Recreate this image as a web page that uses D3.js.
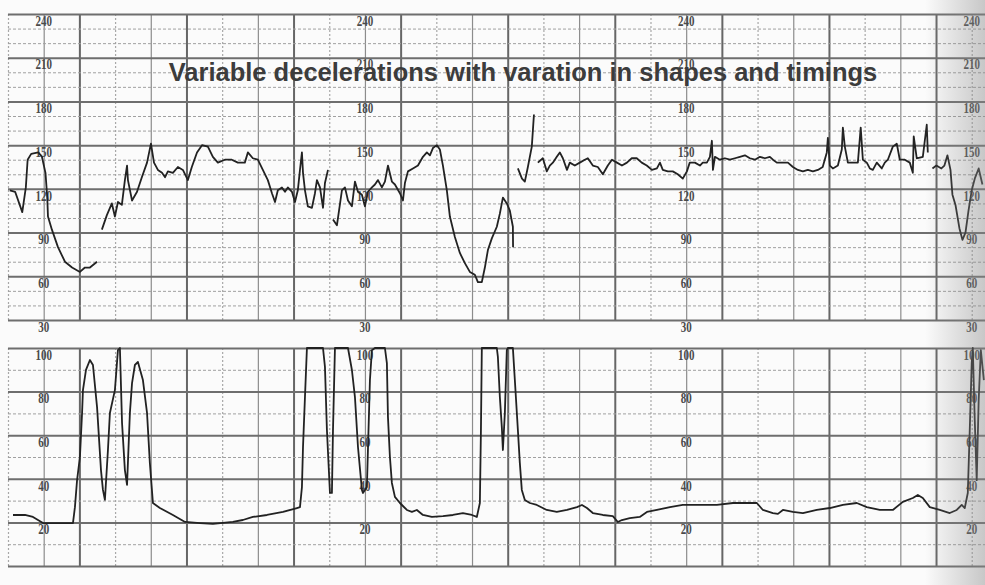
<!DOCTYPE html>
<html>
<head>
<meta charset="utf-8">
<script src="https://cdn.jsdelivr.net/npm/d3@7"></script>
<style>
  html, body { margin: 0; padding: 0; background: #fff; }
  svg { display: block; }
</style>
</head>
<body>
<div id="chart"></div>
<script>
const width = 985;
const height = 585;

const title = 'Variable decelerations with varation in shapes and timings';

// tick labels of both panels
const fhrTicks = [240, 210, 180, 150, 120, 90, 60, 30];
const ucTicks = [100, 80, 60, 40, 20];
// seconds where the printed scales repeat
const labelColumns = [20, 200, 380, 540];

// fetal heart rate, [seconds, bpm], null = signal loss
const fhrPoints = [
  [1, 119], [4, 118], [8, 104], [10, 121], [11, 140], [13, 144], [17, 145], [19, 142], [21, 131],
  [22, 114], [22.4, 101], [24.6, 92], [28, 80], [31.9, 70], [35.9, 66], [40.3, 63], [43.1, 66],
  [45.9, 66], [49.9, 70],
  null,
  [52.6, 92], [55.4, 102], [58.2, 110], [59.9, 101], [61.6, 111], [63.8, 109], [65.5, 126], [66.7, 136],
  [67.2, 126], [69.5, 112], [72.3, 118], [75, 128], [77.9, 138], [80.1, 151], [81.8, 138], [84, 133],
  [86.3, 131], [88, 128], [89.6, 132], [92.4, 131], [95.2, 135], [98, 133], [100.8, 126], [103, 135],
  [105.9, 145], [108.7, 150], [112, 149], [114.8, 142], [117.6, 138], [121.5, 140], [125.4, 140],
  [128.8, 138], [131, 138], [132.7, 138], [134.4, 145], [137.2, 141], [140, 140], [142.8, 133],
  [145.6, 126], [147.9, 117], [149.6, 111], [151.2, 119], [153.5, 121], [155.2, 118], [156.8, 121],
  [159.1, 118], [160.8, 111], [162.4, 119], [163.6, 133], [164.7, 145], [165.3, 131], [166.4, 119],
  [168, 108], [170.3, 107], [172, 117], [173.1, 126], [174.8, 121], [176.5, 107], [177.6, 124], [179.3, 133],
  null,
  [182.1, 99], [184.3, 95], [187.1, 119], [188.8, 121], [190.5, 112], [192.7, 108], [194.4, 125],
  [196.1, 118], [198.3, 116], [200, 108], [201.7, 118], [203.9, 121], [205.6, 123], [207.3, 126],
  [209.5, 121], [211.2, 125], [212.9, 136], [215.1, 125], [216.8, 123], [219.6, 117], [221.3, 112],
  [222.4, 124], [224.1, 132], [226.9, 134], [229.7, 136], [232.5, 142], [234.7, 145], [236.4, 143],
  [238.1, 148], [240.3, 150], [242, 147], [243.7, 136], [245.9, 119], [247.6, 101], [250.4, 87],
  [253.2, 76], [256, 69], [258.8, 63], [261.6, 61], [263.3, 56], [265.5, 56], [267.2, 66], [268.9, 78],
  [271.1, 86], [273.9, 94], [275.6, 103], [277.3, 114], [279.5, 110], [281.2, 105], [282.9, 94], [283, 80],
  null,
  [285.7, 134], [288, 127], [289.6, 125], [291.3, 135], [293.5, 149], [294.1, 160], [294.7, 171],
  null,
  [296.9, 138], [299.7, 141], [301.9, 132], [303.6, 136], [305.3, 138], [307.5, 142], [309.2, 145],
  [310.9, 141], [313.2, 133], [314.8, 138], [317.6, 136], [320.4, 138], [323.2, 140], [324.9, 141],
  [327.7, 136], [330.5, 135], [333.3, 130], [336.1, 136], [338.4, 140], [341.2, 138], [344, 136],
  [346.8, 138], [349.5, 141], [352.3, 141], [355.1, 138], [357.9, 136], [360.8, 133], [363.6, 134],
  [365.3, 138], [366.9, 133], [369.7, 132], [372.5, 132], [375.3, 130], [378.1, 127], [380.4, 132],
  [382, 138], [384.9, 138], [387.7, 136], [389.3, 138], [391.6, 138], [393.3, 142], [394.4, 153],
  [395, 133], [396.1, 142], [398.9, 140], [401.7, 141], [404.5, 140], [407.3, 141], [410.1, 142],
  [412.9, 143], [415.7, 141], [418.5, 140], [421.3, 142], [424.1, 141], [426.9, 142], [428.6, 140],
  [430.8, 138], [434.2, 138], [437, 138], [439.8, 135], [442.6, 133], [445.4, 132], [448.2, 133],
  [451, 132], [453.8, 133], [456.5, 135], [458.8, 145], [459.4, 155], [460.5, 136], [462.2, 134],
  [465, 136], [467.2, 147], [467.8, 162], [468.9, 149], [470.6, 138], [473.4, 138], [476.2, 138],
  [477.8, 162], [479, 140], [481.2, 138], [482.9, 134], [484.6, 133], [486.8, 138], [489.6, 134],
  [491.3, 138], [493, 140], [495.8, 149], [498, 151], [499.7, 140], [502.5, 140], [505.3, 138],
  [507, 131], [507.5, 156], [509.2, 141], [512.6, 142], [514.8, 164], [515.4, 145],
  null,
  [518, 134], [520.2, 136], [523, 134], [524.7, 136], [526.4, 143], [528.1, 133], [529.2, 116],
  [530.9, 109], [533.1, 93], [534.8, 85], [536.5, 90], [538.2, 105], [540, 119], [541.7, 127],
  [543.9, 134], [546, 123]
];

// uterine activity, [seconds, units]
const ucPoints = [
  [2.8, 23.4], [9.5, 23.4], [14, 22.5], [19.6, 19.7], [25.2, 19.7], [33.1, 19.7], [36.4, 19.7],
  [37.5, 27], [38.7, 39.4], [40.3, 50], [41.5, 70.2], [42, 80.7], [43.7, 90], [45.9, 94.5],
  [47.6, 92.2], [49.9, 72.9], [52.1, 44], [53.2, 34.9], [54.3, 30.3], [56, 53.2], [57.1, 70.2],
  [59.9, 80.7], [61.6, 99], [62.7, 100], [63.9, 65.6], [65.5, 44], [66.7, 37.2], [68.3, 70.2],
  [69.5, 83.9], [71.1, 92.2], [72.8, 93.6], [75.6, 85.3], [77.9, 70.2], [79.5, 47.2], [81.2, 28.9],
  [85.1, 26.6], [92.4, 23.4], [99.2, 20.2], [107.6, 19.7], [114.8, 19.3], [126, 20.2], [131.6, 21.1],
  [137.2, 22.5], [145.1, 23.4], [154.1, 24.8], [161.9, 26.6], [163.6, 27], [164.7, 36.2],
  [165.3, 54.6], [166.4, 77.5], [167.5, 100], [176.5, 100], [177.6, 91.3], [178.7, 62.4],
  [180.4, 33.5], [181.5, 33.5], [182.1, 62.4], [183.2, 100], [190.5, 100], [192.7, 89.9],
  [194.4, 77.5], [196.1, 54.6], [198.3, 34.9], [198.9, 33.5], [201.1, 36.2], [202.8, 85.3],
  [203.9, 99], [205.6, 100], [211.2, 100], [212.3, 93.1], [212.9, 68.3], [214, 50], [215.1, 38.1],
  [216.8, 31.7], [219.6, 28.9], [223.5, 25.7], [226.3, 24.8], [229.1, 25.7], [232.5, 23.4],
  [237.5, 22.5], [243.7, 22.9], [249.3, 23.4], [254.9, 24.3], [259.9, 23.4], [262.7, 22.5],
  [264.4, 28.9], [265, 62.4], [265.5, 100], [273.9, 100], [274.5, 95.9], [275.6, 77.5],
  [276.7, 63.8], [277.3, 53.2], [278.4, 70.2], [279.5, 99], [280.1, 100], [282.9, 100], [284, 85.3],
  [285.7, 62.4], [286.8, 47.2], [287.9, 34.9], [289.6, 30.3], [292.4, 28.9], [296.3, 28],
  [301.9, 25.7], [307.5, 24.8], [313.2, 25.7], [318.8, 27], [321.6, 28], [324.4, 26.6], [327.7, 24.3],
  [333.3, 23.4], [338.9, 22.9], [341.7, 20.2], [344, 21.1], [348.4, 22], [354, 22.5], [358, 24.8],
  [363.6, 25.7], [370.9, 27], [378.1, 28], [387.7, 28], [397.2, 28], [406.2, 28.9], [419.6, 28.9],
  [423, 25.7], [428.6, 24.3], [431.4, 23.9], [434.2, 25.7], [439.8, 24.8], [445.4, 24.3],
  [453.2, 25.7], [460.5, 26.6], [467.8, 28], [475.6, 28.9], [481.2, 27], [488.5, 25.7], [495.8, 25.7],
  [501.4, 29.4], [507, 31.2], [509.8, 32.6], [512.6, 31.2], [516.5, 27], [522.1, 25.7], [527.7, 24.3],
  [531.6, 25.7], [534.4, 28], [536.1, 26.6], [537.8, 33.5], [538.9, 62.4], [540, 93.1], [540.6, 100],
  [541.7, 67], [542.8, 39.4], [543.9, 76.1], [545.1, 99], [546.8, 85.3]
];

const svg = d3.select('#chart')
  .append('svg')
  .attr('width', width)
  .attr('height', height);

svg.append('rect')
  .attr('width', width)
  .attr('height', height)
  .attr('fill', '#fbfbfb');

// 1 second = 1.785 px (3 cm/min paper)
const x = d3.scaleLinear().domain([0, 548]).range([8, 986]);
const yFhr = d3.scaleLinear().domain([30, 240]).range([320, 14]);
const yUc = d3.scaleLinear().domain([0, 100]).range([566, 348]);

const gridTimes = d3.range(0, 548, 20);

function drawGrid(yScale, majorTicks, minorTicks) {
  const [y0, y1] = yScale.range();
  const g = svg.append('g');

  // vertical lines, heavy one every minute
  g.append('g')
    .attr('transform', `translate(0,${y0})`)
    .call(d3.axisBottom(x).tickValues(gridTimes).tickSize(-(y0 - y1)).tickFormat(''))
    .call(a => a.select('.domain').remove())
    .selectAll('line')
    .attr('stroke', d => (d / 20) % 3 === 2 ? '#666' : (d / 20) % 3 === 1 ? '#8c8c8c' : '#a8a8a8')
    .attr('stroke-width', d => (d / 20) % 3 === 2 ? 2 : 1.2)
    .attr('stroke-dasharray', d => (d / 20) % 3 === 0 ? '2,2' : null);

  // minor horizontals
  g.append('g')
    .attr('transform', `translate(${x(0)},0)`)
    .call(d3.axisLeft(yScale).tickValues(minorTicks).tickSize(-(width - x(0))).tickFormat(''))
    .call(a => a.select('.domain').remove())
    .selectAll('line')
    .attr('stroke', '#a0a0a0')
    .attr('stroke-width', 1)
    .attr('stroke-dasharray', '3,2');

  // major horizontals
  g.append('g')
    .attr('transform', `translate(${x(0)},0)`)
    .call(d3.axisLeft(yScale).tickValues(majorTicks).tickSize(-(width - x(0))).tickFormat(''))
    .call(a => a.select('.domain').remove())
    .selectAll('line')
    .attr('stroke', '#6e6e6e')
    .attr('stroke-width', 2);
}

drawGrid(yFhr, d3.range(30, 241, 30), d3.range(40, 240, 10).filter(v => v % 30 !== 0));
drawGrid(yUc, d3.range(0, 101, 20), d3.range(10, 100, 20));

// printed scale numbers, tall and narrow like the recorder font
function drawLabels(yScale, ticks) {
  labelColumns.forEach(t => {
    svg.append('g')
      .attr('transform', `translate(${x(t)},0)`)
      .call(d3.axisRight(yScale).tickValues(ticks).tickSize(0).tickPadding(0))
      .call(a => a.select('.domain').remove())
      .selectAll('text')
      .attr('text-anchor', 'middle')
      .attr('dy', '0.75em')
      .attr('textLength', d => String(d).length * 5.5)
      .attr('lengthAdjust', 'spacingAndGlyphs')
      .style('font-family', '"Liberation Serif", "DejaVu Serif", serif')
      .style('font-weight', 'bold')
      .style('font-size', '15px')
      .attr('fill', '#4a4a4a');
  });
}

drawLabels(yFhr, fhrTicks);
drawLabels(yUc, ucTicks);

// traces
const fhrLine = d3.line()
  .defined(d => d !== null)
  .x(d => x(d[0]))
  .y(d => yFhr(d[1]));

const ucLine = d3.line()
  .x(d => x(d[0]))
  .y(d => yUc(d[1]));

svg.append('path')
  .datum(fhrPoints)
  .attr('d', fhrLine)
  .attr('fill', 'none')
  .attr('stroke', '#222')
  .attr('stroke-width', 1.8)
  .attr('stroke-linejoin', 'round');

svg.append('path')
  .datum(ucPoints)
  .attr('d', ucLine)
  .attr('fill', 'none')
  .attr('stroke', '#222')
  .attr('stroke-width', 1.8)
  .attr('stroke-linejoin', 'round');

svg.append('text')
  .attr('x', 523)
  .attr('y', 81)
  .attr('text-anchor', 'middle')
  .style('font-family', '"Liberation Sans", Arial, sans-serif')
  .style('font-weight', 'bold')
  .style('font-size', '25.5px')
  .attr('fill', '#3c3c3c')
  .text(title);

// scanner shadow on the right edge
const defs = svg.append('defs');
const grad = defs.append('linearGradient').attr('id', 'edge');
grad.append('stop').attr('offset', '0%').attr('stop-color', '#888').attr('stop-opacity', 0);
grad.append('stop').attr('offset', '100%').attr('stop-color', '#888').attr('stop-opacity', 0.45);

svg.append('rect')
  .attr('x', 925)
  .attr('y', 0)
  .attr('width', width - 925)
  .attr('height', height)
  .attr('fill', 'url(#edge)');
</script>
</body>
</html>
